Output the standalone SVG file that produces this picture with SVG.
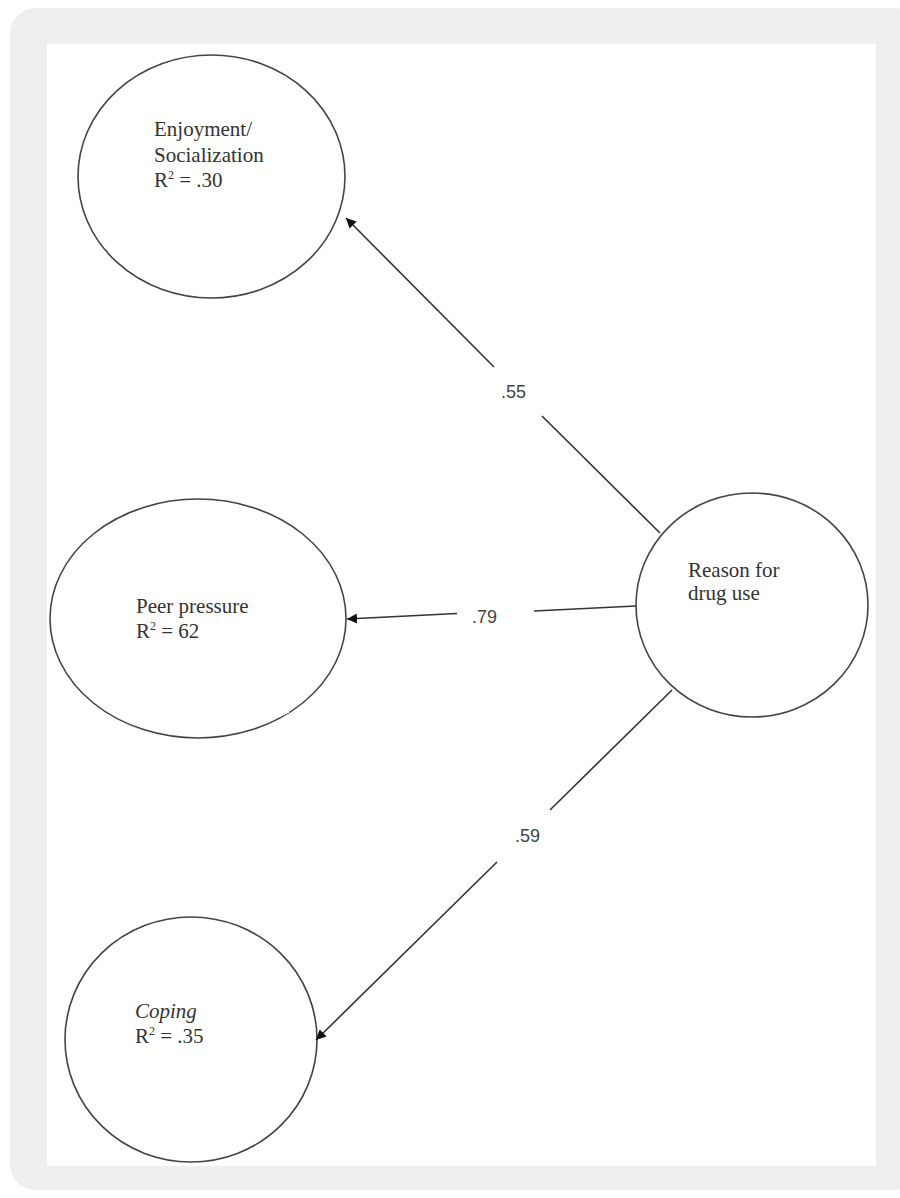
<svg xmlns="http://www.w3.org/2000/svg" width="900" height="1198" viewBox="0 0 900 1198">
<defs>
<marker id="ah" viewBox="0 0 10 10" refX="10" refY="5" markerWidth="10" markerHeight="10" markerUnits="userSpaceOnUse" orient="auto">
<path d="M0,0 L10,5 L0,10 Z" fill="#111"/>
</marker>
<style>
.node{fill:#fff;stroke:#444;stroke-width:1.6}
.t{font-family:"Liberation Serif","Times New Roman",serif;font-size:21px;fill:#333}
.lbl{font-family:"Liberation Sans",Arial,sans-serif;font-size:18px;fill:#444}
.edge{stroke:#333;stroke-width:1.6;fill:none}
</style>
</defs>
<rect x="10" y="8" width="910" height="1182" rx="26" fill="#eeeeee"/>
<rect x="47" y="44" width="829" height="1122" fill="#ffffff"/>
<g id="enjoyment">
<ellipse class="node" cx="211.5" cy="176.5" rx="133.5" ry="121.5"/>
<text class="t" x="154" y="136">Enjoyment/</text>
<text class="t" x="154" y="162">Socialization</text>
<text class="t" x="154" y="187">R<tspan font-size="12" dy="-8">2</tspan><tspan dy="8"> = .30</tspan></text>
</g>
<g id="peer">
<ellipse class="node" cx="198" cy="618.5" rx="148" ry="119.5"/>
<line x1="282" y1="714.5" x2="289" y2="711" stroke="#fff" stroke-width="3"/>
<text class="t" x="136" y="613">Peer pressure</text>
<text class="t" x="136" y="638">R<tspan font-size="12" dy="-8">2</tspan><tspan dy="8"> = 62</tspan></text>
</g>
<g id="reason">
<ellipse class="node" cx="752" cy="605" rx="116" ry="112"/>
<text class="t" x="688" y="577">Reason for</text>
<text class="t" x="688" y="600">drug use</text>
</g>
<g id="coping">
<ellipse class="node" cx="191" cy="1039.5" rx="126" ry="122.5"/>
<text class="t" x="135" y="1018" font-style="italic">Coping</text>
<text class="t" x="135" y="1043">R<tspan font-size="12" dy="-8">2</tspan><tspan dy="8"> = .35</tspan></text>
</g>
<g id="connectors">
<line class="edge" x1="660" y1="533" x2="542" y2="416"/>
<line class="edge" x1="494" y1="367" x2="346" y2="218" marker-end="url(#ah)"/>
<text class="lbl" x="501" y="398">.55</text>
<line class="edge" x1="636" y1="606" x2="534" y2="611"/>
<line class="edge" x1="457" y1="613.5" x2="347" y2="619" marker-end="url(#ah)"/>
<text class="lbl" x="472" y="623">.79</text>
<line class="edge" x1="672" y1="690" x2="550" y2="810"/>
<line class="edge" x1="497" y1="862" x2="316" y2="1040" marker-end="url(#ah)"/>
<text class="lbl" x="515" y="842">.59</text>
</g>
</svg>
